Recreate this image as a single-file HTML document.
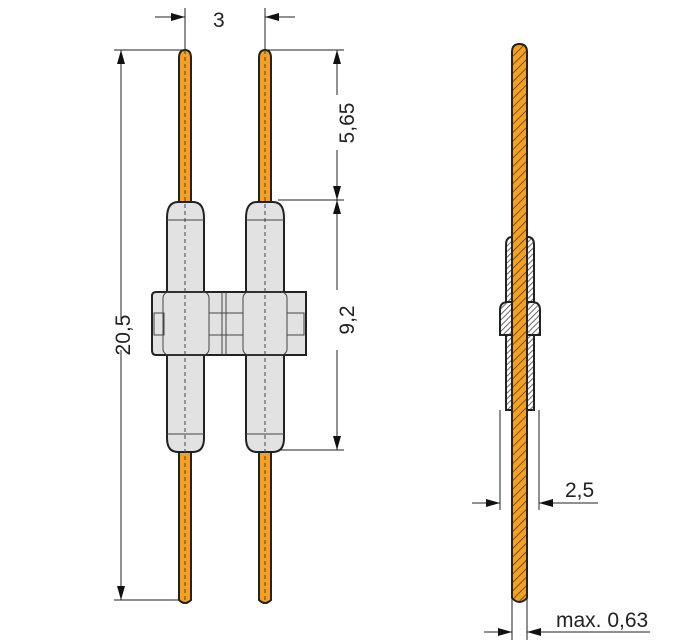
<!DOCTYPE html>
<html><head><style>body{margin:0;background:#fff}svg{display:block}text{font-family:"Liberation Sans",sans-serif;font-size:21px;fill:#222}</style></head>
<body>
<svg width="697" height="642" viewBox="0 0 697 642" xmlns="http://www.w3.org/2000/svg">
<defs>
<marker id="a" markerWidth="14" markerHeight="8" refX="14" refY="4" orient="auto" markerUnits="userSpaceOnUse"><path d="M0,0L14,4L0,8z" fill="#111"/></marker>
<pattern id="h" width="6" height="6" patternUnits="userSpaceOnUse" patternTransform="rotate(45)"><rect width="6" height="6" fill="#f5a020"/><line x1="0" y1="0" x2="0" y2="6" stroke="#333" stroke-width="1.4"/></pattern>
<pattern id="g" width="4" height="4" patternUnits="userSpaceOnUse" patternTransform="rotate(45)"><rect width="4" height="4" fill="#fff"/><line x1="0" y1="0" x2="0" y2="4" stroke="#444" stroke-width="1.6"/></pattern>
</defs>
<g stroke="#222" stroke-width="1" fill="none">
<!-- dim 3 -->
<line x1="185" y1="8" x2="185" y2="50"/><line x1="265" y1="8" x2="265" y2="50"/>
<line x1="155" y1="17" x2="185" y2="17" marker-end="url(#a)"/>
<line x1="295" y1="17" x2="265" y2="17" marker-end="url(#a)"/>
<!-- 20,5 -->
<line x1="114" y1="50" x2="185" y2="50"/><line x1="114" y1="600" x2="185" y2="600"/>
<line x1="121" y1="320" x2="121" y2="50" marker-end="url(#a)"/>
<line x1="121" y1="350" x2="121" y2="600" marker-end="url(#a)"/>
<!-- 5,65 / 9,2 -->
<line x1="265" y1="50" x2="344" y2="50"/><line x1="278" y1="200" x2="344" y2="200"/><line x1="278" y1="450" x2="344" y2="450"/>
<line x1="337" y1="95" x2="337" y2="50" marker-end="url(#a)"/>
<line x1="337" y1="150" x2="337" y2="200" marker-end="url(#a)"/>
<line x1="337" y1="290" x2="337" y2="200" marker-end="url(#a)"/>
<line x1="337" y1="350" x2="337" y2="450" marker-end="url(#a)"/>
<!-- 2,5 -->
<line x1="500" y1="410" x2="500" y2="510"/><line x1="539" y1="410" x2="539" y2="510"/>
<line x1="472" y1="503" x2="500" y2="503" marker-end="url(#a)"/>
<line x1="598" y1="503" x2="539" y2="503" marker-end="url(#a)"/>
<!-- 0,63 -->
<line x1="512" y1="590" x2="512" y2="640"/><line x1="527" y1="590" x2="527" y2="640"/>
<line x1="484" y1="632" x2="512" y2="632" marker-end="url(#a)"/>
<line x1="650" y1="632" x2="527" y2="632" marker-end="url(#a)"/>
</g>
<text x="213" y="27">3</text>
<text x="565" y="497">2,5</text>
<text x="556" y="627">max. 0,63</text>
<text transform="translate(354,123) rotate(-90)" text-anchor="middle">5,65</text>
<text transform="translate(354,320) rotate(-90)" text-anchor="middle">9,2</text>
<text transform="translate(130,335) rotate(-90)" text-anchor="middle">20,5</text>
<!-- pins front -->
<g stroke="#222" stroke-width="2" fill="#f5a020">
<path d="M179,600 V58 Q179,50 185,50 Q191,50 191,58 V600 Q185,606 179,600Z"/>
<path d="M259,600 V58 Q259,50 265,50 Q271,50 271,58 V600 Q265,606 259,600Z"/>
</g>
<!-- body -->
<g stroke="#222" stroke-width="2" fill="#e2e2e2">
<path d="M152,296 Q152,292 156,292 H306 V355 H156 Q152,355 152,350Z"/>
<path d="M167,292 V218 Q167,202 178,202 H193 Q204,202 204,218 V292Z"/>
<path d="M167,355 V438 Q167,452 178,452 H193 Q204,452 204,438 V355Z"/>
<path d="M246,292 V218 Q246,202 257,202 H273 Q284,202 284,218 V292Z"/>
<path d="M246,355 V438 Q246,452 257,452 H273 Q284,452 284,438 V355Z"/>
</g>
<g stroke="#444" stroke-width="1" fill="none">
<line x1="167" y1="220" x2="204" y2="220"/><line x1="246" y1="220" x2="284" y2="220"/>
<line x1="167" y1="434" x2="204" y2="434"/><line x1="246" y1="434" x2="284" y2="434"/>
<rect x="163" y="292" width="46" height="63" rx="6"/><rect x="243" y="292" width="44" height="63" rx="6"/>
<rect x="154" y="313" width="10" height="22"/><rect x="209" y="313" width="34" height="22"/><rect x="287" y="313" width="17" height="22"/>
<line x1="222" y1="292" x2="222" y2="355"/><line x1="226" y1="292" x2="226" y2="355"/>
<line x1="185" y1="50" x2="185" y2="600" stroke-dasharray="4,3"/><line x1="265" y1="50" x2="265" y2="600" stroke-dasharray="4,3"/>
</g>
<!-- side view -->
<path d="M506,410 V245 Q506,237 512,237 H528 Q534,237 534,245 V410 Z" fill="url(#g)" stroke="#222" stroke-width="2"/>
<path d="M500,335 V310 Q500,302 508,302 H532 Q540,302 540,310 V335 Z" fill="url(#g)" stroke="#222" stroke-width="2"/>
<path d="M512,598 V52 Q512,44 519.5,44 Q527,44 527,52 V598 Q519.5,606 512,598Z" fill="url(#h)" stroke="#222" stroke-width="2"/>
</svg>
</body></html>
